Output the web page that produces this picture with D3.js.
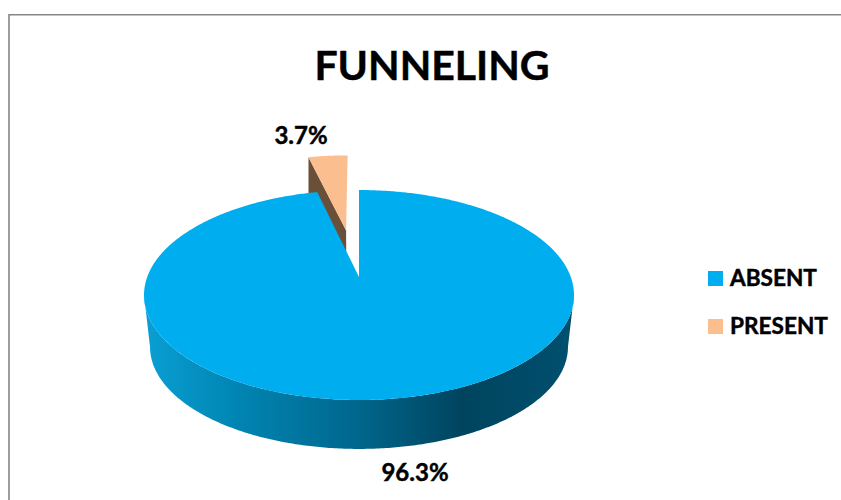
<!DOCTYPE html>
<html>
<head>
<meta charset="utf-8">
<script src="https://cdn.jsdelivr.net/npm/d3@7"></script>
<style>
  html, body { margin: 0; padding: 0; background: #fff; }
  svg { display: block; }
  text { font-family: Lato, "Open Sans", sans-serif; font-weight: 700; fill: #000; stroke: #000; stroke-width: 0.45px; }
</style>
</head>
<body>
<svg id="chart" width="841" height="500"></svg>
<script>
const categories = ["ABSENT", "PRESENT"];
const values = [96.3, 3.7];
const valueLabels = ["96.3%", "3.7%"];
const topColors = ["#00aeef", "#fbbe8e"];
const chartTitle = "FUNNELING";

const svg = d3.select("#chart");

// Chart area frame: only the top and left edges fall inside the view.
svg.append("path")
  .attr("d", "M9,500V14.7H841")
  .attr("fill", "none")
  .attr("stroke", "#868686")
  .attr("stroke-width", 1.6);

// Perspective projection of the tilted pie: unit-disc coordinates to screen.
const view = { cx: 359, cy: 277, a: 211.8, b: 101.9, p: 0.1714 };
const baseScale = 0.972, baseCy = 329.4;

function project(u, v, scale = 1, cy = view.cy) {
  const s = 1 + view.p * v;
  return [view.cx + scale * view.a * u / s, cy - scale * view.b * v / s];
}

const line = d3.line();

// Angles come from the values; the first slice starts at twelve o'clock.
const pie = d3.pie().sort(null).value(d => d);
const arcs = pie(values);

function ringPoints(a0, a1, ox = 0, oy = 0, scale = 1, cy = view.cy) {
  const n = Math.max(2, Math.ceil(Math.abs(a1 - a0) / 0.01));
  return d3.range(n + 1).map(i => {
    const t = a0 + (a1 - a0) * i / n;
    return project(ox + Math.sin(t), oy + Math.cos(t), scale, cy);
  });
}

const defs = svg.append("defs");
const wallGradient = defs.append("linearGradient")
  .attr("id", "wallShade")
  .attr("gradientUnits", "userSpaceOnUse")
  .attr("x1", 144).attr("x2", 574).attr("y1", 0).attr("y2", 0);
[[0, "#0a9fd4"], [0.2, "#0087b5"], [0.5, "#00668c"], [0.74, "#00445f"], [1, "#00506f"]]
  .forEach(([o, c]) => wallGradient.append("stop").attr("offset", o).attr("stop-color", c));

// Small slice, pulled away from the centre along its mid angle.
const small = arcs[1];
const mid = (small.startAngle + small.endAngle) / 2;
const explode = 0.48;
const ox = explode * Math.sin(mid), oy = explode * Math.cos(mid);
const smallGroup = svg.append("g").attr("transform", "translate(-2,-1.5)");

// Cut face of the small slice, mostly hidden by the large slice.
const sA = project(ox, oy);
const sL = project(ox + Math.sin(small.startAngle), oy + Math.cos(small.startAngle));
const bA = project(ox, oy, baseScale, baseCy);
const bL = project(ox + Math.sin(small.startAngle), oy + Math.cos(small.startAngle), baseScale, baseCy);
smallGroup.append("path")
  .attr("d", line([sA, sL, [sL[0], bL[1]], bA]) + "Z")
  .attr("fill", "#6a4f39");

smallGroup.append("path")
  .attr("d", line([sA, ...ringPoints(small.startAngle, small.endAngle, ox, oy)]) + "Z")
  .attr("fill", topColors[1]);

// Side wall of the large slice: the visible front half of the rim.
const leftEdge = 2 * Math.PI - (Math.PI / 2 + Math.asin(view.p));
const rightEdge = Math.PI / 2 + Math.asin(view.p);
const wallTop = ringPoints(rightEdge, leftEdge);
const wallBase = ringPoints(leftEdge, rightEdge, 0, 0, baseScale, baseCy);
svg.append("path")
  .attr("d", line([...wallTop, ...wallBase]) + "Z")
  .attr("fill", "url(#wallShade)");

// Top face of the large slice.
const large = arcs[0];
svg.append("path")
  .attr("d", line([project(0, 0), ...ringPoints(large.startAngle, large.endAngle)]) + "Z")
  .attr("fill", topColors[0]);

// Title and value labels.
svg.append("text")
  .attr("x", 432).attr("y", 80)
  .attr("text-anchor", "middle")
  .attr("font-size", 41)
  .text(chartTitle);

svg.append("text")
  .attr("x", 415).attr("y", 481)
  .attr("text-anchor", "middle")
  .attr("font-size", 24)
  .text(valueLabels[0]);

svg.append("text")
  .attr("x", 301).attr("y", 144)
  .attr("text-anchor", "middle")
  .attr("font-size", 24)
  .text(valueLabels[1]);

// Legend.
const legendY = d3.scalePoint().domain(categories).range([278.5, 326.5]);
const legendColor = d3.scaleOrdinal().domain(categories).range(topColors);
const entry = svg.selectAll("g.legend").data(categories).join("g")
  .attr("class", "legend")
  .attr("transform", d => `translate(708,${legendY(d)})`);
entry.append("rect")
  .attr("x", 0).attr("y", -7.5).attr("width", 15).attr("height", 15)
  .attr("fill", d => legendColor(d));
entry.append("text")
  .attr("x", 22).attr("y", 7.5)
  .attr("font-size", 22.6)
  .text(d => d);
</script>
</body>
</html>
